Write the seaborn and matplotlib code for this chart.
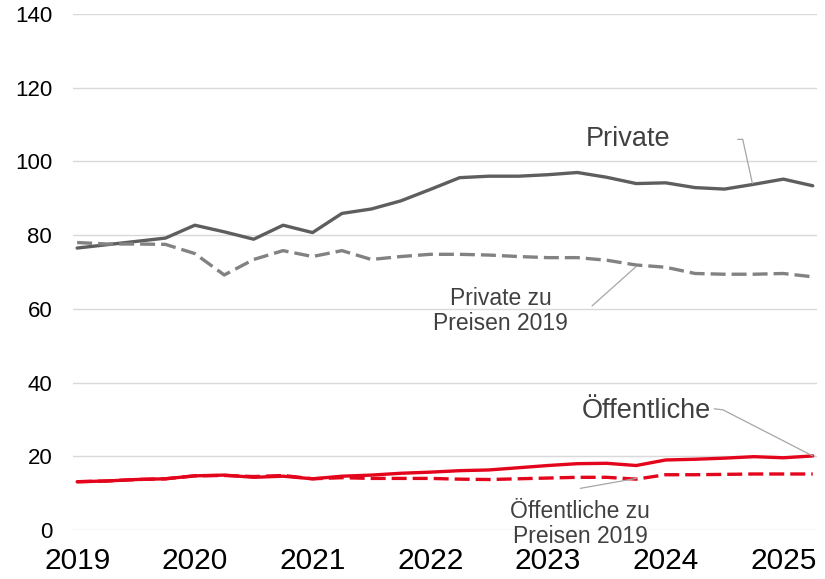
import numpy as np
import pandas as pd
import seaborn as sns
import matplotlib.pyplot as plt

# Quarterly values, 2019 Q1 - 2025 Q2
quarters = list(range(26))
year_labels = ['2019', '2020', '2021', '2022', '2023', '2024', '2025']
year_ticks = [0, 4, 8, 12, 16, 20, 24]

private = [76.5, 77.4, 78.3, 79.2, 82.7, 80.9, 78.9, 82.7, 80.7, 85.9, 87.1, 89.3, 92.4, 95.6,
           96.0, 96.0, 96.4, 97.0, 95.7, 94.0, 94.2, 92.9, 92.5, 93.8, 95.2, 93.4]
private_real = [78.0, 77.6, 77.6, 77.5, 75.0, 69.2, 73.4, 75.8, 74.2, 75.8, 73.4, 74.2, 74.8, 74.8,
                74.6, 74.2, 73.9, 73.9, 73.2, 71.9, 71.3, 69.6, 69.4, 69.4, 69.6, 68.7]
public = [13.1, 13.3, 13.7, 13.9, 14.7, 14.9, 14.3, 14.6, 13.9, 14.6, 14.9, 15.4, 15.7, 16.1,
          16.3, 16.9, 17.5, 18.0, 18.1, 17.5, 19.0, 19.2, 19.5, 19.9, 19.6, 20.1]
public_real = [13.1, 13.3, 13.7, 13.9, 14.7, 14.8, 14.5, 14.8, 13.9, 14.2, 14.0, 14.0, 14.0, 13.8,
               13.7, 13.9, 14.1, 14.3, 14.3, 13.8, 15.0, 15.0, 15.1, 15.2, 15.2, 15.2]

sns.set_style('white')
plt.rcParams['font.family'] = ['Liberation Sans', 'DejaVu Sans']

fig = plt.figure(figsize=(8.25, 5.79), dpi=100)
ax = fig.add_axes([0.0885, 0.0846, 0.902, 0.8912])

grey_dark = '#5e5e5e'
grey_light = '#828282'
red = '#e3051b'

sns.lineplot(x=quarters, y=private, ax=ax, color=grey_dark, lw=2.4)
sns.lineplot(x=quarters, y=private_real, ax=ax, color=grey_light, lw=2.4)
ax.lines[-1].set_dashes((4.5, 1.8))
sns.lineplot(x=quarters, y=public_real, ax=ax, color=red, lw=2.4)
ax.lines[-1].set_dashes((4.5, 1.8))
sns.lineplot(x=quarters, y=public, ax=ax, color=red, lw=2.4)

ax.set_ylim(0, 140)
ax.set_xlim(-0.14, 25.15)
ax.set_yticks(range(0, 141, 20))
ax.set_xticks(year_ticks)
ax.set_xticklabels(year_labels)
ax.grid(axis='y', color='#d9d9d9', lw=1)
ax.grid(axis='x', visible=False)
ax.set_axisbelow(True)
for s in ax.spines.values():
    s.set_visible(False)
ax.tick_params(axis='y', length=0, pad=15, labelsize=16, labelcolor='black')
ax.tick_params(axis='x', length=0, pad=12, labelsize=21.5, labelcolor='black')
ax.set_xlabel('')
ax.set_ylabel('')

txt = '#404040'
lead = '#a6a6a6'


def label(text, xytext, size, path):
    ax.text(xytext[0], xytext[1], text, fontsize=size, color=txt, ha='center', va='center',
            linespacing=1.1)
    ax.plot(path[0], path[1], color=lead, lw=0.9)


# leader lines in data coordinates
label('Private', (18.74, 106.0), 19.5,
      ([22.45, 22.62, 22.95], [106.0, 106.0, 94.0]))
label('Private zu\nPreisen 2019', (14.4, 59.5), 16.5,
      ([17.5, 19.0], [60.8, 71.5]))
label('Öffentliche', (19.33, 32.3), 19.5,
      ([21.65, 21.95, 25.0], [32.9, 32.6, 20.1]))
label('Öffentliche zu\nPreisen 2019', (17.1, 1.6), 16.5,
      ([17.1, 19.0], [11.3, 14.0]))

fig.savefig('out.png', dpi=100)
